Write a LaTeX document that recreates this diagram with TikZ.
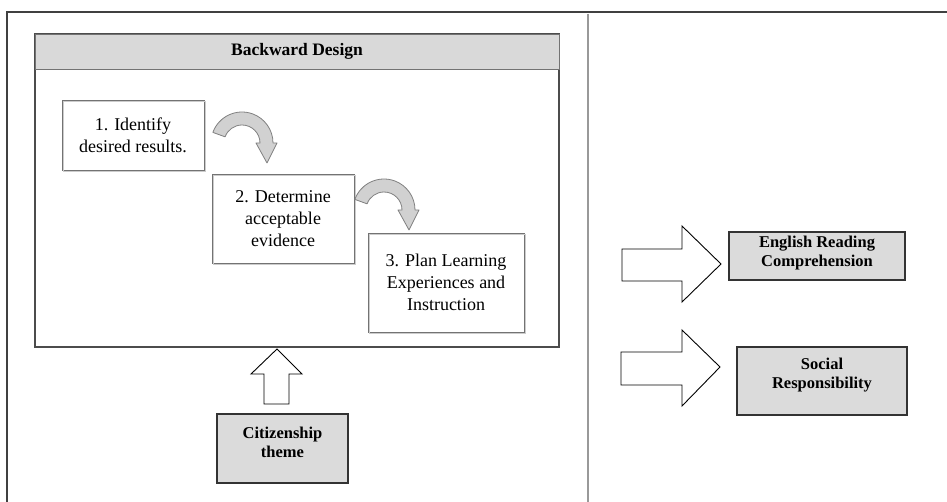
\documentclass[tikz,border=0pt]{standalone}
\usepackage{fontspec}
\setmainfont{Liberation Serif}
\begin{document}
\begin{tikzpicture}[x=1pt,y=-1pt,
  framel/.style={draw=black!75,line width=1.4pt},
  divl/.style={draw=black!40,line width=2pt},
  bigbox/.style={draw=black!70,line width=1.1pt,fill=white,minimum width=524pt,minimum height=313pt,inner sep=0pt},
  headbox/.style={draw=black!55,line width=0.9pt,fill=black!15,minimum width=524pt,minimum height=35pt,inner sep=0pt,font=\fontsize{17.5}{21}\selectfont\bfseries},
  stepbox/.style={draw=black!55,line width=0.8pt,fill=white,align=center,inner sep=0pt,
     font=\fontsize{18}{22}\selectfont,
     postaction={draw=black!20,line width=1.2pt,transform canvas={xshift=1.2pt,yshift=-1.2pt}}},
  outbox/.style={draw=black!80,line width=1.3pt,fill=black!14,inner sep=0pt},
  boldtxt/.style={align=center,inner sep=0pt,font=\fontsize{16.5}{19}\selectfont\bfseries},
  curvarrow/.style={draw=black!50,line width=0.8pt,fill=black!18,line join=round},
  blockarrow/.style={draw=black,line width=0.9pt,fill=white,line join=miter}
]
\useasboundingbox (0,0) rectangle (947,502);
% outer frame
\draw[framel] (6,12) -- (947,12);
\draw[framel] (7,12) -- (7,502);
\draw[divl] (588,14) -- (588,502);

% backward design panel
\node[bigbox] (bd) at (297,190.5) {};
\node[headbox] (head) at (297,51.5) {Backward Design};

\node[stepbox,minimum width=142pt,minimum height=70pt] (s1) at (133,135) {1. Identify\\desired results.};
\node[stepbox,minimum width=142pt,minimum height=89pt] (s2) at (283,218.5) {2. Determine\\acceptable\\evidence};
\node[stepbox,minimum width=156pt,minimum height=99pt] (s3) at (446,282.5) {3. Plan Learning\\Experiences and\\Instruction};

% curved arrows
\coordinate (c1) at (242,143);
\coordinate (c2) at (384,210);
\foreach \c in {c1,c2}{
\begin{scope}[shift={(\c)}]
\path[curvarrow] (200:31) arc[start angle=200,end angle=360,radius=31]
   -- (35,0) -- (25,20) -- (14,0) -- (18,0)
   arc[start angle=360,end angle=200,radius=18] -- cycle;
\end{scope}
}

% citizenship
\node[outbox,minimum width=131pt,minimum height=69pt] (cit) at (282.5,448.5) {};
\node[boldtxt] (citt) at ([yshift=6pt]cit.center) {Citizenship\\theme};
\path[blockarrow] (264,404) -- (264,374) -- (251,374) -- (277,349) -- (302,374) -- (289,374) -- (289,404) -- cycle;

% outcomes
\node[outbox,minimum width=176pt,minimum height=48pt] (eng) at (817,256) {};
\node[boldtxt] (engt) at ([yshift=3pt]eng.center) {English Reading\\Comprehension};
\node[outbox,minimum width=170pt,minimum height=68pt] (soc) at (822,381) {};
\node[boldtxt] (soct) at ([yshift=6pt]soc.center) {Social\\Responsibility};

\path[blockarrow] (622,249) -- (682,249) -- (682,226) -- (721,264) -- (682,302) -- (682,281) -- (622,281) -- cycle;
\path[blockarrow] (621,352) -- (682,352) -- (682,330) -- (720,367) -- (682,406) -- (682,385) -- (621,385) -- cycle;
\end{tikzpicture}
\end{document}
